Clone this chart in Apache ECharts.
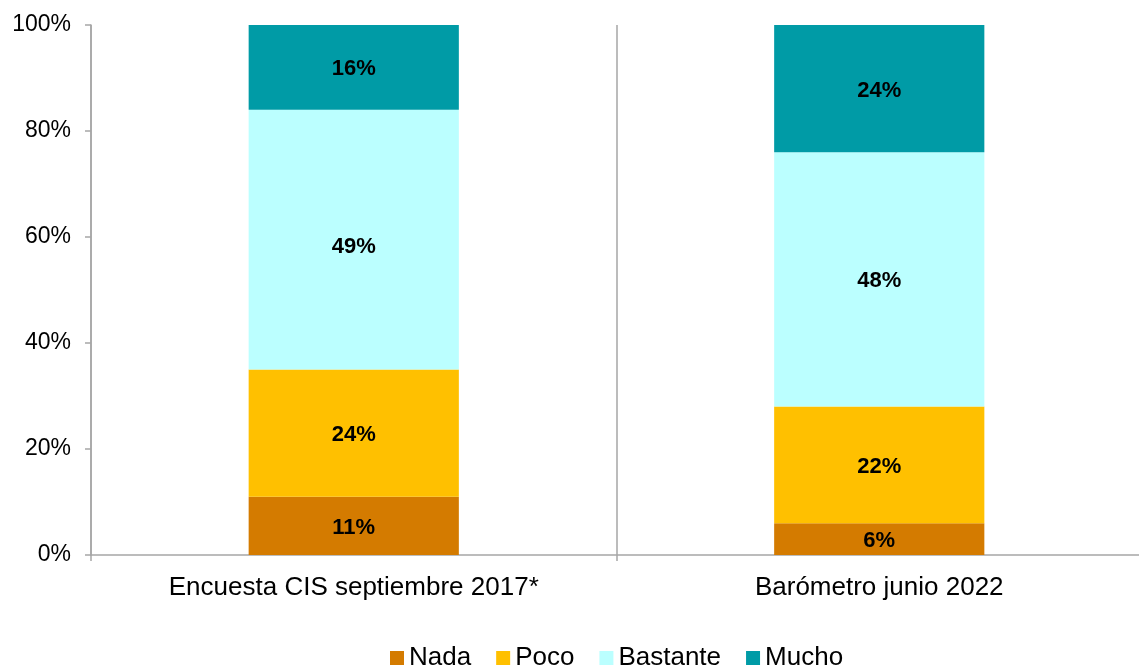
<!DOCTYPE html>
<html>
<head>
<meta charset="utf-8">
<script src="https://cdn.jsdelivr.net/npm/echarts@6/dist/echarts.min.js"></script>
<style>
  html, body { margin: 0; padding: 0; background: #fff; }
  #chart { width: 1139px; height: 667px; }
</style>
</head>
<body>
<div id="chart"></div>
<script>
// categorías y valores (%)
const categories = ["Encuesta CIS septiembre 2017*", "Barómetro junio 2022"];
const nada = [11, 6];
const poco = [24, 22];
const bastante = [49, 48];
const mucho = [16, 24];
const yTicks = [0, 20, 40, 60, 80, 100];

const font = "Liberation Sans, Arial, sans-serif";
const colors = ["#D47B00", "#FFC000", "#BBFFFF", "#009BA6"];

const chart = echarts.init(document.getElementById("chart"));

function makeSeries(name, data, color, offsets) {
  return {
    name: name,
    type: "bar",
    stack: "total",
    // la etiqueta de 49% está algo más baja en el original
    data: data.map((v, i) => ({
      value: v,
      label: { offset: [0, offsets ? offsets[i] : 2] }
    })),
    barWidth: "40%",
    itemStyle: { color: color },
    label: {
      show: true,
      position: "inside",
      formatter: "{c}%",
      color: "#000",
      fontWeight: "bold",
      fontSize: 22,
      fontFamily: font
    }
  };
}

chart.setOption({
  animation: false,
  textStyle: { fontFamily: font },
  grid: { left: 91, top: 25, width: 1051, height: 530, outerBoundsMode: "none", containLabel: false },
  legend: {
    top: 640,
    left: 385,
    itemWidth: 14,
    itemHeight: 14,
    itemGap: 25,
    icon: "rect",
    textStyle: { fontSize: 26, color: "#000", fontFamily: font },
    data: ["Nada", "Poco", "Bastante", "Mucho"]
  },
  xAxis: {
    type: "category",
    data: categories,
    axisLine: { lineStyle: { color: "#a6a6a6", width: 1.5 } },
    axisTick: { show: true, length: 6, lineStyle: { color: "#a6a6a6", width: 1.5 } },
    splitLine: { show: true, lineStyle: { color: "#a6a6a6", width: 1.5 } },
    axisLabel: { fontSize: 26, color: "#000", margin: 20, fontFamily: font }
  },
  yAxis: {
    type: "value",
    min: 0,
    max: 100,
    interval: 20,
    axisLine: { show: true, lineStyle: { color: "#a6a6a6", width: 1.5 } },
    axisTick: { show: true, length: 6, lineStyle: { color: "#a6a6a6", width: 1.5 } },
    splitLine: { show: false },
    axisLabel: {
      fontSize: 23,
      color: "#000",
      margin: 20,
      fontFamily: font,
      verticalAlign: "middle",
      padding: [7, 0, 0, 0],
      formatter: v => (yTicks.includes(v) ? v + "%" : "")
    }
  },
  series: [
    makeSeries("Nada", nada, colors[0]),
    makeSeries("Poco", poco, colors[1]),
    makeSeries("Bastante", bastante, colors[2], [7, 2]),
    makeSeries("Mucho", mucho, colors[3])
  ]
});
</script>
</body>
</html>
